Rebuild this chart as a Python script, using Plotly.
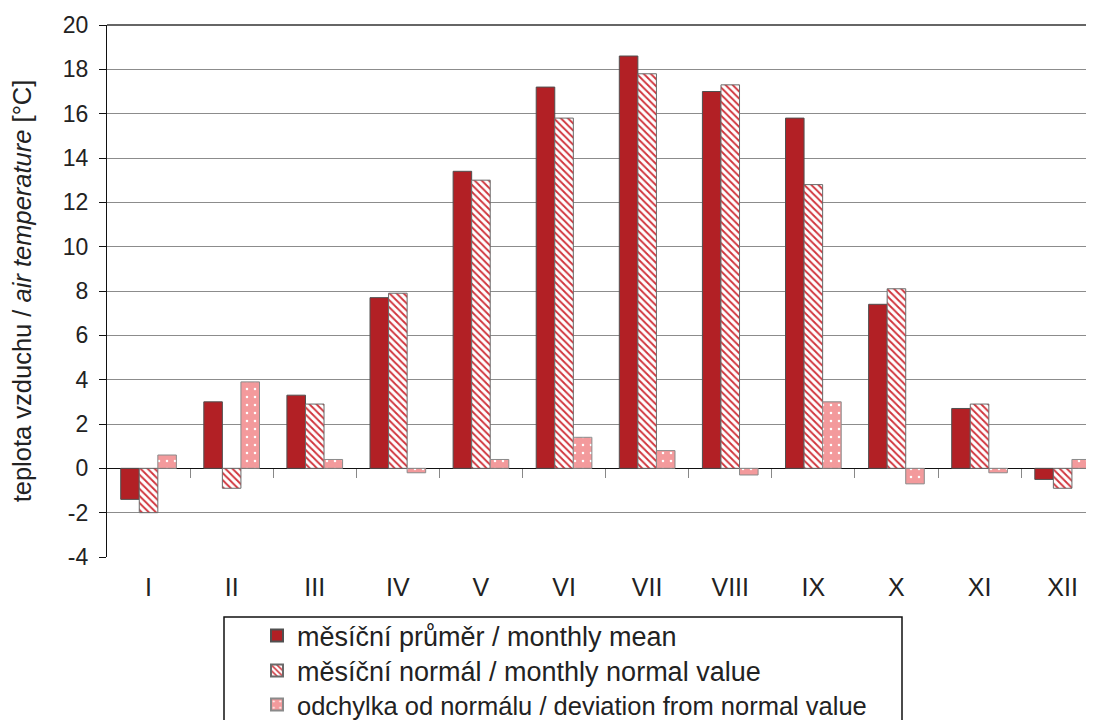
import plotly.graph_objects as go

months = ["I", "II", "III", "IV", "V", "VI", "VII", "VIII", "IX", "X", "XI", "XII"]
monthly_mean = [-1.4, 3.0, 3.3, 7.7, 13.4, 17.2, 18.6, 17.0, 15.8, 7.4, 2.7, -0.5]
monthly_normal = [-2.0, -0.9, 2.9, 7.9, 13.0, 15.8, 17.8, 17.3, 12.8, 8.1, 2.9, -0.9]
deviation = [0.6, 3.9, 0.4, -0.2, 0.4, 1.4, 0.8, -0.3, 3.0, -0.7, -0.2, 0.4]
y_ticks = list(range(-4, 21, 2))
y_tick_labels = [str(v) for v in y_ticks]

names = [
    "měsíční průměr / monthly mean",
    "měsíční normál / monthly normal value",
    "odchylka od normálu / deviation from normal value",
]

FONT = "Liberation Sans, Arial, sans-serif"
OFF = 8                      # page body margin
W, H = 1094 - OFF, 720 - OFF
L, T = 107 - OFF, 25 - OFF
plot_bottom = 557 - OFF
B = H - plot_bottom
plot_w = W - L
plot_h = plot_bottom - T
cat_px = 83.1
x_max = -0.5 + plot_w / cat_px
ymin, ymax = -4, 20


def px_to_paper_y(py):
    return (plot_bottom - (py - OFF)) / plot_h


def px_to_paper_x(px):
    return ((px - OFF) - L) / plot_w


fig = go.Figure()
fig.add_trace(go.Bar(
    x=months, y=monthly_mean, name=names[0], legend="legend",
    marker=dict(color="#B22025", line=dict(color="#505050", width=1)),
))
fig.add_trace(go.Bar(
    x=months, y=monthly_normal, name=names[1], legend="legend2",
    marker=dict(color="white", line=dict(color="#6a6a6a", width=1),
                pattern=dict(shape="\\", fgcolor="#D0343C", bgcolor="white",
                             size=5, solidity=0.38, fillmode="replace")),
))
fig.add_trace(go.Bar(
    x=months, y=deviation, name=names[2], legend="legend3",
    marker=dict(color="#F39A9C", line=dict(color="#8a8a8a", width=1),
                pattern=dict(shape=".", fgcolor="white", bgcolor="#F39A9C",
                             size=8, solidity=0.08, fillmode="replace")),
))
fig.add_trace(go.Scatter(x=[None], y=[None], xaxis="x2", showlegend=False,
                         hoverinfo="skip"))

row_centers = [636, 671, 705]
row_font = [27, 27, 25.5]


def leg(i):
    return dict(
        x=px_to_paper_x(257), xanchor="left", yanchor="middle",
        y=px_to_paper_y(row_centers[i]),
        bgcolor="rgba(0,0,0,0)", borderwidth=0,
        font=dict(family=FONT, size=row_font[i], color="#222"),
        itemsizing="constant",
    )


fig.update_layout(
    width=W, height=H,
    margin=dict(l=L, r=0, t=T, b=B, autoexpand=False),
    paper_bgcolor="white", plot_bgcolor="white",
    font=dict(family=FONT, size=24, color="#222"),
    barmode="group", bargap=0.33, bargroupgap=0,
    showlegend=True,
    legend=leg(0), legend2=leg(1), legend3=leg(2),
    xaxis=dict(
        range=[-0.5, x_max], showgrid=False, zeroline=False,
        showline=False, ticks="", tickfont=dict(size=25, color="#222"),
        ticklabelstandoff=13, fixedrange=True,
    ),
    xaxis2=dict(
        overlaying="x", anchor="free",
        position=(0 - ymin) / (ymax - ymin),
        range=[-0.5, x_max], tickmode="array",
        tickvals=[i + 0.5 for i in range(len(months) - 1)],
        ticks="outside", ticklen=9, tickcolor="#888", tickwidth=1,
        showticklabels=False, showgrid=False, zeroline=False,
        showline=False, side="bottom",
    ),
    yaxis=dict(
        range=[ymin, ymax], tickmode="array", tickvals=y_ticks,
        ticktext=y_tick_labels,
        showgrid=True, gridcolor="#8c8c8c", gridwidth=1,
        zeroline=True, zerolinecolor="#111", zerolinewidth=1.3,
        showline=True, linecolor="#111", linewidth=1.3,
        ticks="outside", ticklen=7, tickcolor="#111",
        ticklabelstandoff=6,
        tickfont=dict(size=23, color="#222"),
        title=dict(text="teplota vzduchu / <i>air temperature</i> [°C]",
                   font=dict(size=25.5, color="#222"), standoff=24),
    ),
    shapes=[
        dict(type="rect", xref="paper", yref="paper",
             x0=px_to_paper_x(224), x1=px_to_paper_x(902),
             y0=px_to_paper_y(780), y1=px_to_paper_y(617),
             line=dict(color="#111", width=1.5), fillcolor="rgba(0,0,0,0)",
             layer="below"),
        dict(type="line", xref="paper", yref="paper", x0=0, x1=1, y0=1, y1=1,
             line=dict(color="#333", width=1.3)),
    ],
)

fig.write_html("out.html")
